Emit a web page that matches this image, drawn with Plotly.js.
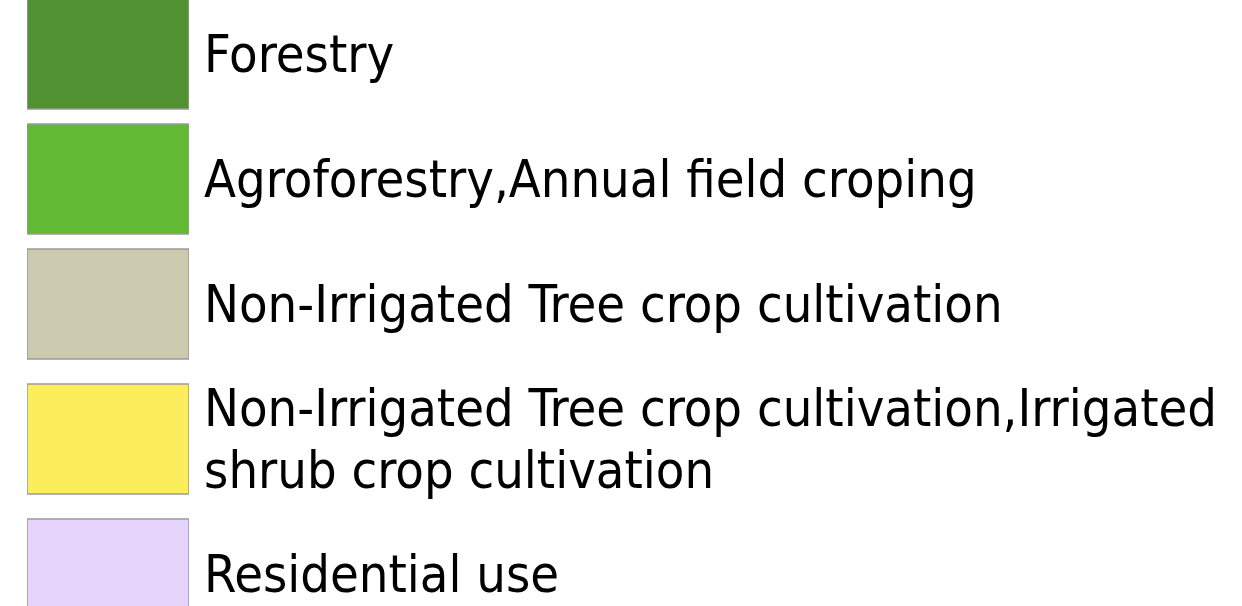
<!DOCTYPE html>
<html>
<head>
<meta charset="utf-8">
<script src="https://cdn.plot.ly/plotly-3.0.1.min.js"></script>
<style>html,body{margin:0;padding:0;background:#fff;}#chart{width:1242px;height:606px;}</style>
</head>
<body>
<div id="chart"></div>
<script>
// Legend categories (land use classes)
const categories = [
  "Forestry",
  "Agroforestry,Annual field croping",
  "Non-Irrigated Tree crop cultivation",
  "Non-Irrigated Tree crop cultivation,Irrigated<br>shrub crop cultivation",
  "Residential use"
];
const colors = ["#519133", "#62BA33", "#CCCAAE", "#FBED5C", "#E7D4FD"];
const swatchValue = [1, 1, 1, 1, 1];

// layout helpers (pixel layout of the legend swatches)
const W = 1242, H = 606;
const boxH = 110, gap = 15, extraPerLine = 10, linePitch = 62;
const centers = [];
const tickVals = [], tickText = [];
let cursor = -1;
categories.forEach((c) => {
  const lines = c.split("<br>");
  const extra = (lines.length - 1) * extraPerLine;
  cursor += extra;
  const ctr = cursor + boxH / 2;
  centers.push(ctr);
  lines.forEach((ln, j) => {
    tickVals.push(ctr + (j - (lines.length - 1) / 2) * linePitch);
    tickText.push(ln);
  });
  cursor += boxH + gap + extra;
});

const trace = {
  type: "bar",
  orientation: "h",
  y: centers,
  x: swatchValue,
  base: 0,
  width: boxH,
  marker: { color: colors, line: { color: "#9a9a9a", width: 1.5 } },
  hoverinfo: "skip",
  showlegend: false
};

const fam = "DejaVu Sans Condensed, DejaVu Sans, sans-serif";
const layout = {
  width: W, height: H,
  margin: { l: 0, r: 0, t: 0, b: 0, pad: 0 },
  paper_bgcolor: "#ffffff", plot_bgcolor: "rgba(0,0,0,0)",
  font: { family: fam, color: "#000000" },
  xaxis: { domain: [27 / W, 189 / W], range: [0, 1], visible: false, fixedrange: true },
  yaxis: {
    range: [H, 0], side: "right", tickmode: "array",
    tickvals: tickVals, ticktext: tickText,
    showgrid: false, zeroline: false, showline: false, ticks: "",
    ticklabelstandoff: 14,
    tickfont: { size: 52, family: fam, color: "#000" },
    automargin: false, fixedrange: true
  },
  bargap: 0
};

Plotly.newPlot("chart", [trace], layout, { displayModeBar: false, staticPlot: true });
</script>
</body>
</html>
